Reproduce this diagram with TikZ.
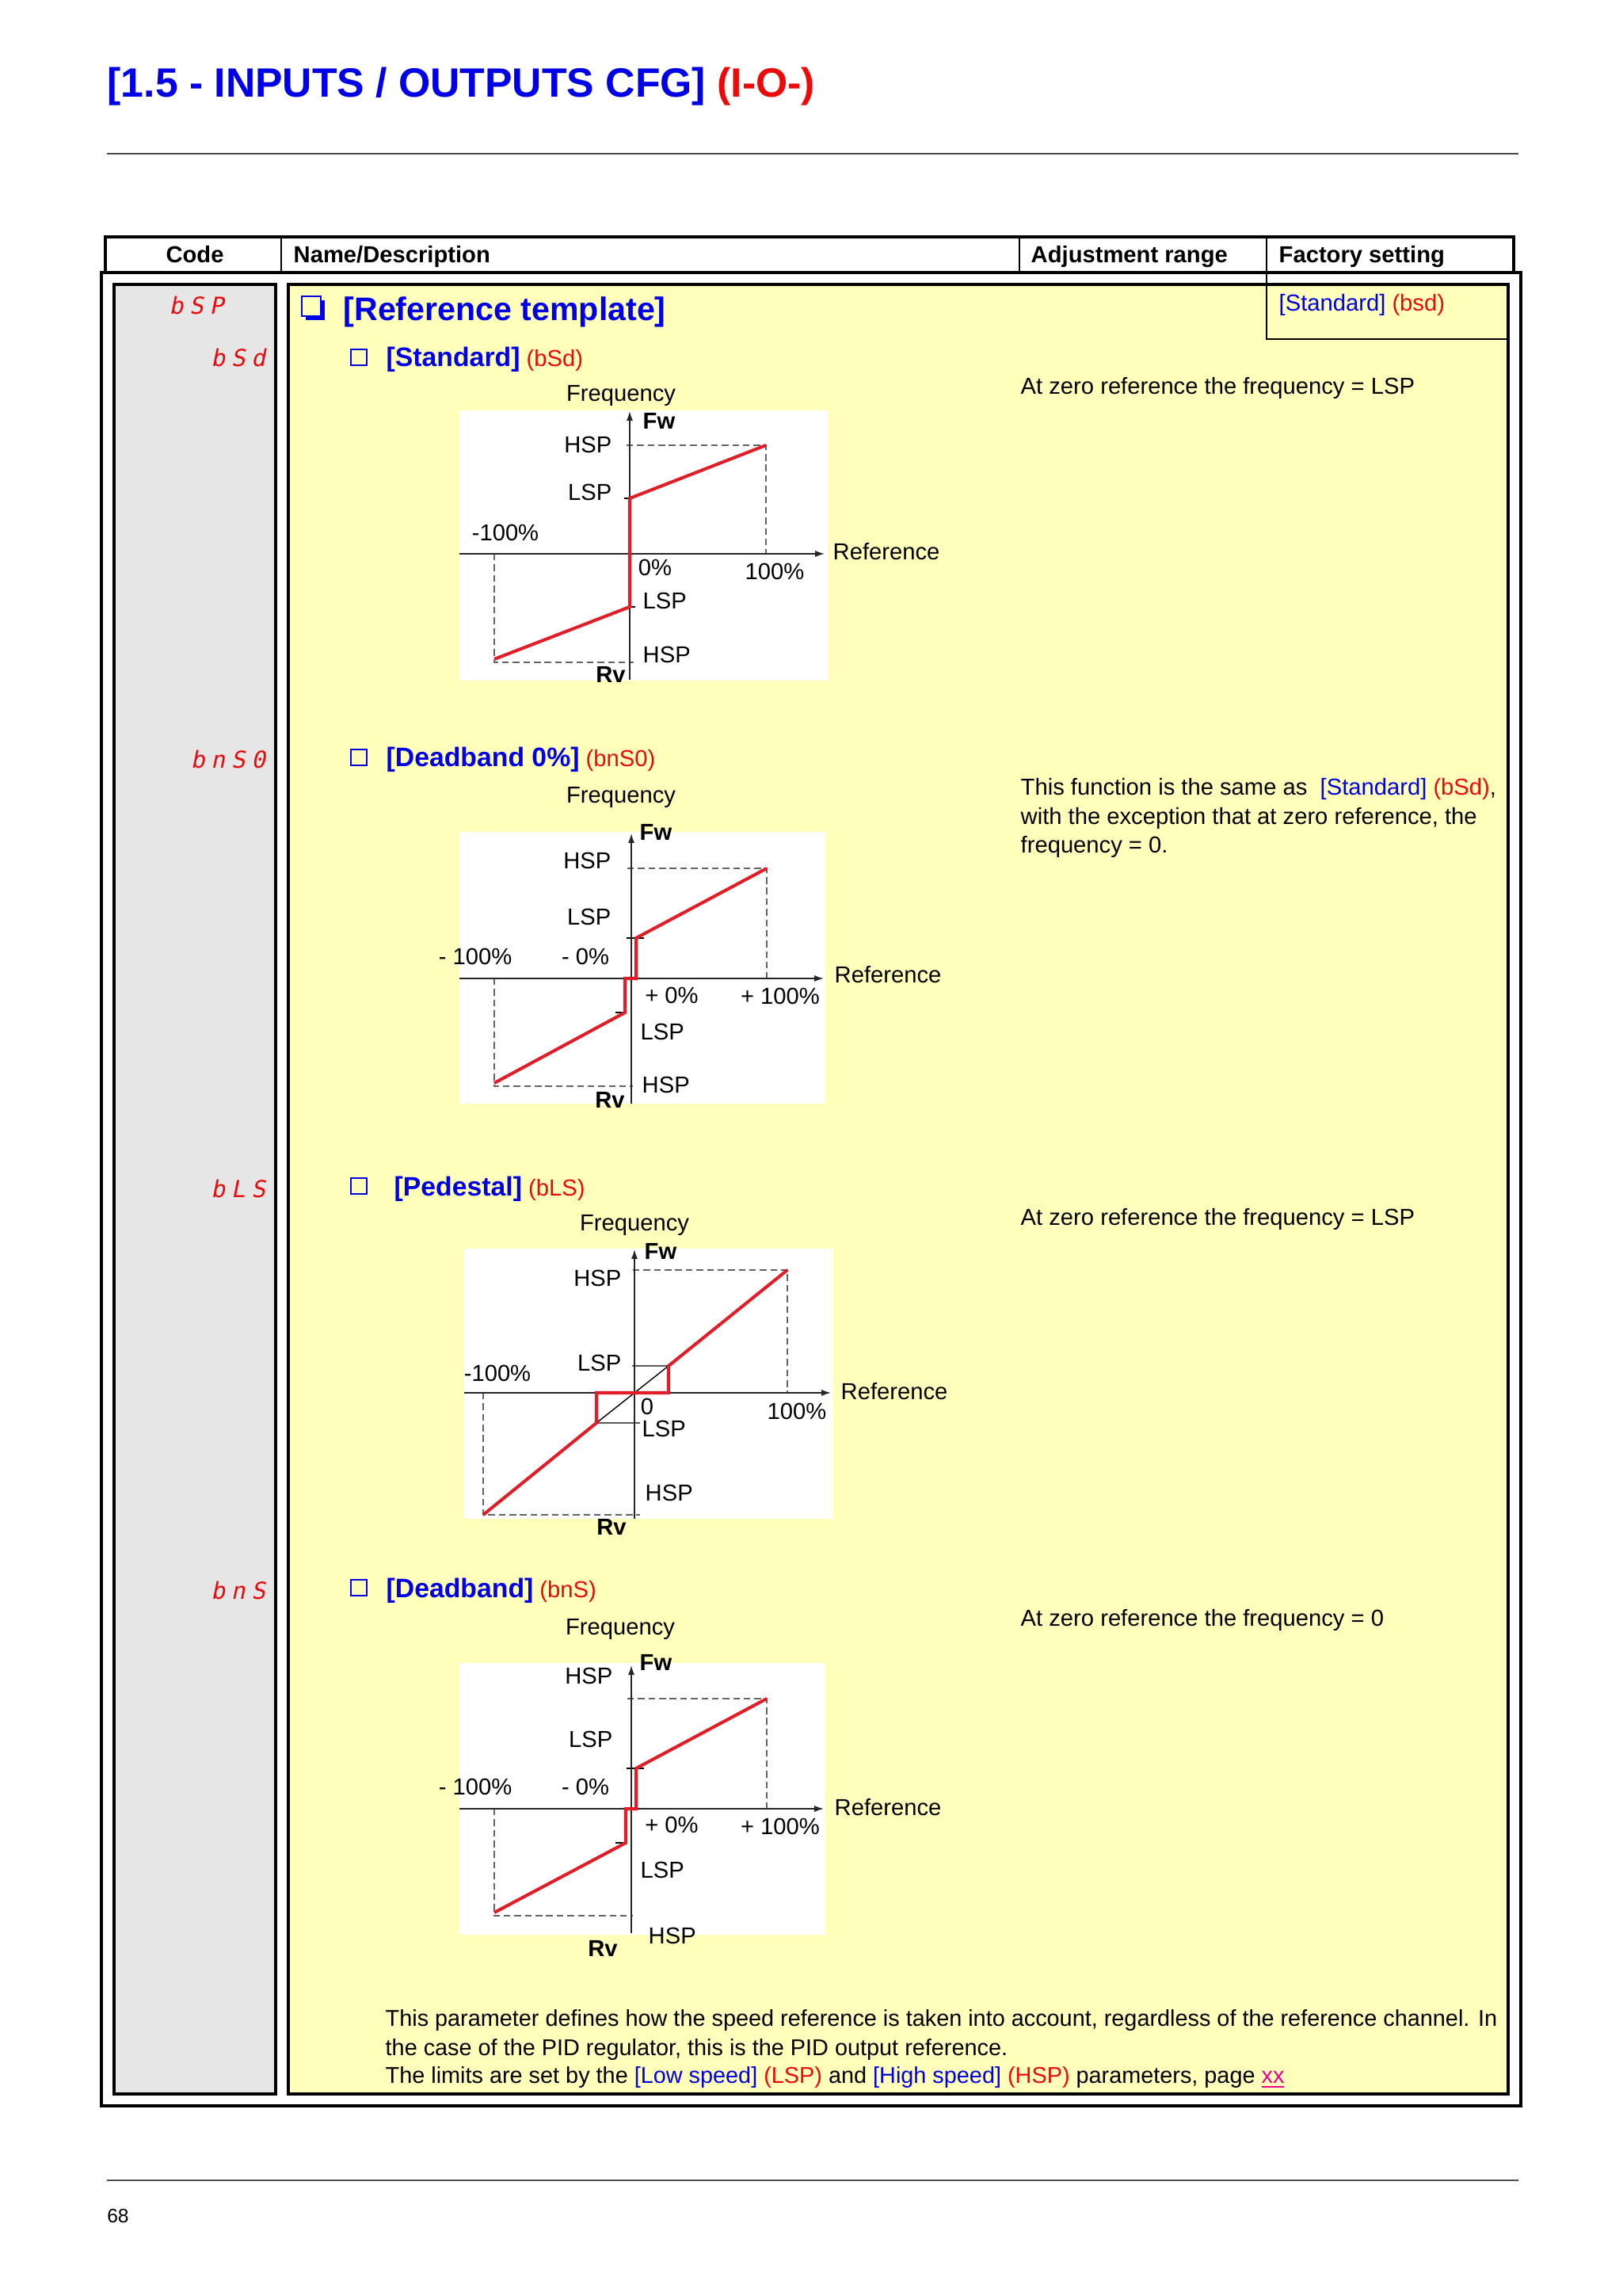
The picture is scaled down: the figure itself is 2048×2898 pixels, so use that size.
\documentclass[tikz,border=0pt]{standalone}
\usepackage{fontspec}
\setmainfont{Liberation Sans}
\newfontfamily\segfont[FakeSlant=0.2]{DejaVu Sans Mono}
\usetikzlibrary{arrows.meta}

\definecolor{iogblue}{RGB}{0,0,230}
\definecolor{iogred}{RGB}{235,10,10}
\definecolor{curvered}{RGB}{225,30,40}
\definecolor{celly}{RGB}{255,255,187}
\definecolor{cellg}{RGB}{230,230,230}
\definecolor{guidegrey}{RGB}{100,100,100}

\newcommand{\segsp}{\hspace{2.2pt}}
\newcommand{\bl}[1]{\textcolor{iogblue}{#1}}
\newcommand{\rd}[1]{\textcolor{iogred}{#1}}

\tikzset{
  txt/.style={font=\fontsize{8.3}{10.3}\selectfont, inner sep=0pt},
  lab/.style={txt, anchor=base},
  head/.style={txt, font=\fontsize{8.3}{10}\selectfont\bfseries, anchor=base west},
  code/.style={font=\fontsize{8.4}{9}\selectfont\segfont, text=iogred, inner sep=0pt, anchor=base east},
  axis/.style={line width=0.45pt, black!85, -{Latex[length=3.4pt,width=2.3pt]}},
  guide/.style={guidegrey, line width=0.45pt, dash pattern=on 2.4pt off 1.4pt},
  curve/.style={curvered, line width=1.15pt},
  panel/.style={fill=white},
  thick box/.style={line width=1.4pt},
}

\begin{document}
\begin{tikzpicture}[x=0.01cm, y=-0.01cm]
\useasboundingbox[fill=white] (0,0) rectangle (2048,2898);

% title and page rules
\node[txt, anchor=base west, font=\fontsize{14.7}{17}\selectfont\bfseries] (title) at (135,123) {\bl{[1.5 - INPUTS / OUTPUTS CFG]} \rd{(I-O-)}};
\draw[black!70, line width=0.5pt] (135,194) -- (1917,194);
\draw[black!70, line width=0.5pt] (135,2752) -- (1917,2752);
\node[txt, anchor=base, font=\fontsize{7}{8}\selectfont] (pagenum) at (149,2805) {68};

% table header
\draw[thick box] (133,299) rectangle (1911,344);
\foreach \x in {355,1287,1599} \draw[line width=0.6pt] (\x,299) -- (\x,344);
\node[head, anchor=base] (hcode) at (246,332) {Code};
\node[head] (hname) at (370,332) {Name/Description};
\node[head] (hrange) at (1301,332) {Adjustment range};
\node[head] (hfactory) at (1614,332) {Factory setting};

% table body
\draw[thick box] (128,344) rectangle (1920,2658);
\filldraw[fill=cellg, line width=1.3pt] (144,359) rectangle (348,2643);
\filldraw[fill=celly, line width=1.3pt] (364,359) rectangle (1904,2643);
\draw[line width=0.5pt] (1599,344) -- (1599,428) -- (1902,428);
\node[txt, anchor=base west] (factory) at (1614,393) {\bl{[Standard]} \rd{(bsd)}};

% codes
\node[code, anchor=base west] (cbsp) at (213,397) {b\segsp S\segsp P};
\foreach \y/\lab [count=\i] in {463/{b\segsp S\segsp d}, 969/{b\segsp n\segsp S\segsp 0}, 1511/{b\segsp L\segsp S}, 2018/{b\segsp n\segsp S}}
  \node[code] (code\i) at (336,\y) {\lab};

% items
\fill[iogblue] (386,379) rectangle (410,404);
\filldraw[fill=celly, draw=iogblue, line width=0.6pt] (381,374) rectangle (405,399);
\node[txt, anchor=base west, font=\fontsize{11.7}{14}\selectfont\bfseries, text=iogblue] (reftemplate) at (433,405) {[Reference template]};
\foreach \y in {451,956,1497,2004}
  \draw[iogblue, line width=0.6pt] (443,\y-10) rectangle (463,\y+10);
\foreach \x/\y/\lab/\code [count=\i] in {487/463/Standard/bSd, 487/968/Deadband 0\%/bnS0, 497/1509/Pedestal/bLS, 487/2016/Deadband/bnS}
  \node[txt, anchor=base west] (item\i) at (\x,\y) {{\fontsize{9.6}{11}\selectfont\bfseries\bl{[\lab]}} \rd{(\code)}};

% notes right
\foreach \y/\lab [count=\i] in {498/{At zero reference the frequency = LSP}, 1004/{This function is the same as\ \ \bl{[Standard]} \rd{(bSd)},}, 1040/{with the exception that at zero reference, the}, 1076/{frequency = 0.}, 1546/{At zero reference the frequency = LSP}, 2052/{At zero reference the frequency = 0}}
  \node[txt, anchor=base west] (note\i) at (1288,\y) {\lab};

% bottom text
\foreach \y/\lab [count=\i] in {2557/{This parameter defines how the speed reference is taken into account, regardless of the reference channel. In}, 2594/{the case of the PID regulator, this is the PID output reference.}, 2629/{The limits are set by the \bl{[Low speed]} \rd{(LSP)} and \bl{[High speed]} \rd{(HSP)} parameters, page \textcolor{magenta}{\underline{xx}}}}
  \node[txt, anchor=base west, font=\fontsize{8.2}{10}\selectfont] (para\i) at (486,\y) {\lab};

% graph 1 : standard
\fill[panel] (580,518) rectangle (1045,859);
\draw[guide] (791,562) -- (967,562) -- (967,699);
\draw[guide] (624,699) -- (624,836) -- (800,836);
\draw[line width=0.45pt] (788,629) -- (795,629) (795,766) -- (802,766);
\draw[axis] (580,699) -- (1041,699);
\draw[axis] (795,858) -- (795,519);
\draw[curve] (624,832) -- (795,766) -- (795,629) -- (967,562);
\foreach \x/\y/\a/\lab [count=\i] in {784/507/base/Frequency, 832/542/base/\bfseries Fw, 773/572/base east/HSP, 773/632/base east/LSP, 638/683/base/-100\%, 827/727/base/0\%, 978/732/base/100\%, 1051/707/base west/Reference, 811/769/base west/LSP, 811/837/base west/HSP, 771/862/base/\bfseries Rv}
  \node[lab, anchor=\a] (std\i) at (\x,\y) {\lab};

% graph 2 : deadband 0%
\fill[panel] (580,1050) rectangle (1042,1393);
\draw[guide] (792,1096) -- (968,1096) -- (968,1235);
\draw[guide] (624,1235) -- (624,1371) -- (799,1371);
\draw[line width=0.45pt] (791,1184) -- (813,1184) (777,1278) -- (790,1278);
\draw[axis] (580,1235) -- (1040,1235);
\draw[axis] (797,1393) -- (797,1052);
\draw[curve] (624,1367) -- (789,1278) -- (789,1235) -- (803,1235) -- (803,1184) -- (968,1096);
\foreach \x/\y/\a/\lab [count=\i] in {784/1014/base/Frequency, 828/1060/base/\bfseries Fw, 772/1096/base east/HSP, 772/1167/base east/LSP, 600/1217/base/- 100\%, 739/1217/base/- 0\%, 1053/1240/base west/Reference, 848/1266/base/+ 0\%, 985/1267/base/+ 100\%, 808/1312/base west/LSP, 810/1379/base west/HSP, 770/1398/base/\bfseries Rv}
  \node[lab, anchor=\a] (dbz\i) at (\x,\y) {\lab};

% graph 3 : pedestal
\fill[panel] (586,1576) rectangle (1052,1917);
\draw[guide] (799,1603) -- (994,1603) -- (994,1758);
\draw[guide] (610,1758) -- (610,1912) -- (808,1912);
\draw[line width=0.4pt] (798,1724) -- (844,1724) (753,1796) -- (808,1796) (753,1796) -- (844,1724);
\draw[axis] (586,1758) -- (1049,1758);
\draw[axis] (801,1917) -- (801,1577);
\draw[curve] (610,1912) -- (753,1796) -- (753,1758) -- (844,1758) -- (844,1724) -- (994,1603);
\foreach \x/\y/\a/\lab [count=\i] in {801/1553/base/Frequency, 834/1589/base/\bfseries Fw, 785/1623/base east/HSP, 785/1730/base east/LSP, 628/1743/base/-100\%, 817/1785/base/0, 1006/1791/base/100\%, 1061/1766/base west/Reference, 810/1813/base west/LSP, 814/1894/base west/HSP, 772/1937/base/\bfseries Rv}
  \node[lab, anchor=\a] (ped\i) at (\x,\y) {\lab};

% graph 4 : deadband
\fill[panel] (580,2099) rectangle (1042,2442);
\draw[guide] (792,2144) -- (968,2144) -- (968,2283);
\draw[guide] (624,2283) -- (624,2418) -- (799,2418);
\draw[line width=0.45pt] (791,2232) -- (813,2232) (777,2326) -- (790,2326);
\draw[axis] (580,2283) -- (1040,2283);
\draw[axis] (797,2440) -- (797,2102);
\draw[curve] (624,2414) -- (790,2326) -- (790,2283) -- (803,2283) -- (803,2232) -- (968,2144);
\foreach \x/\y/\a/\lab [count=\i] in {783/2063/base/Frequency, 828/2108/base/\bfseries Fw, 774/2125/base east/HSP, 774/2205/base east/LSP, 600/2265/base/- 100\%, 739/2265/base/- 0\%, 1053/2291/base west/Reference, 848/2313/base/+ 0\%, 985/2315/base/+ 100\%, 808/2370/base west/LSP, 818/2453/base west/HSP, 761/2469/base/\bfseries Rv}
  \node[lab, anchor=\a] (dbd\i) at (\x,\y) {\lab};
\end{tikzpicture}
\end{document}
